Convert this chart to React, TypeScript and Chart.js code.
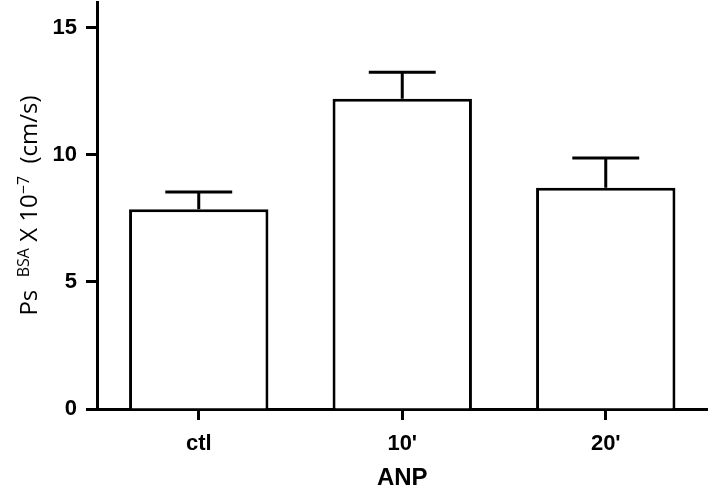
import React, { useEffect, useRef } from "react";
import { Chart, registerables } from "chart.js";

Chart.register(...registerables);

const categories = ["ctl", "10'", "20'"];
const means = [7.85, 12.2, 8.7];
const sems = [0.68, 1.04, 1.17];
const yTicks = [0, 5, 10, 15];
const yMin = 0;
const yMax = 16;
const xTitle = "ANP";
// y-axis title pieces: [text, isSuperscript]
const yTitleParts: [string, boolean][] = [
  ["Ps", false],
  ["  ", false],
  ["BSA", true],
  [" X 10", false],
  ["\u22127", true],
  ["  (cm/s)", false],
];

const errorBarPlugin = {
  id: "errorBars",
  afterDatasetsDraw(chart: any) {
    const ctx = chart.ctx;
    const meta = chart.getDatasetMeta(0);
    const y = chart.scales.y;
    ctx.save();
    ctx.strokeStyle = "#000";
    ctx.lineWidth = 3;
    ctx.lineCap = "butt";
    meta.data.forEach((bar: any, i: number) => {
      const top = y.getPixelForValue(means[i]);
      const hi = y.getPixelForValue(means[i] + sems[i]);
      const half = bar.width * 0.24;
      ctx.beginPath();
      ctx.moveTo(bar.x, top);
      ctx.lineTo(bar.x, hi);
      ctx.moveTo(bar.x - half, hi);
      ctx.lineTo(bar.x + half, hi);
      ctx.stroke();
    });
    ctx.restore();
  },
};

const yTitlePlugin = {
  id: "yTitle",
  afterDraw(chart: any) {
    const ctx = chart.ctx;
    const area = chart.chartArea;
    const mainFont = '24px "Open Sans"';
    const supFont = '16px "Open Sans"';
    ctx.save();
    let total = 0;
    const widths = yTitleParts.map(([t, sup]) => {
      ctx.font = sup ? supFont : mainFont;
      const w = ctx.measureText(t).width;
      total += w;
      return w;
    });
    const cy = (area.top + area.bottom) / 2;
    ctx.translate(37, cy);
    ctx.rotate(-Math.PI / 2);
    ctx.fillStyle = "#000";
    ctx.textBaseline = "alphabetic";
    ctx.textAlign = "left";
    let x = -total / 2;
    yTitleParts.forEach(([t, sup], i) => {
      ctx.font = sup ? supFont : mainFont;
      ctx.fillText(t, x, sup ? -8 : 0);
      x += widths[i];
    });
    ctx.restore();
  },
};

export default function App() {
  const ref = useRef<HTMLCanvasElement | null>(null);
  useEffect(() => {
    if (!ref.current) return;
    const chart = new Chart(ref.current, {
      type: "bar",
      data: {
        labels: categories,
        datasets: [
          {
            data: means,
            backgroundColor: "#fff",
            borderColor: "#000",
            borderWidth: 3,
            barPercentage: 0.685,
            categoryPercentage: 1,
          },
        ],
      },
      options: {
        responsive: false,
        animation: false,
        devicePixelRatio: 1,
        layout: { padding: { top: 2, right: 1.5, left: 0, bottom: 0 } },
        plugins: {
          legend: { display: false },
          tooltip: { enabled: false },
          title: { display: false },
        },
        scales: {
          x: {
            offset: true,
            border: { display: true, color: "#000", width: 3 },
            grid: {
              display: true,
              offset: false,
              drawOnChartArea: false,
              drawTicks: true,
              tickLength: 11,
              tickWidth: 3,
              tickColor: "#000",
              color: "#000",
            },
            ticks: {
              color: "#000",
              padding: 11,
              font: { family: '"Liberation Sans", Arial', size: 22, weight: "bold" },
              maxRotation: 0,
            },
            title: {
              display: true,
              text: xTitle,
              color: "#000",
              font: { family: '"Liberation Sans", Arial', size: 24, weight: "bold", lineHeight: 1 },
              padding: { top: 0, bottom: 6 },
            },
            afterFit(scale: any) {
              scale.height = 87;
              scale.paddingLeft = 0;
              scale.paddingRight = 0;
            },
          },
          y: {
            min: yMin,
            max: yMax,
            border: { display: true, color: "#000", width: 3 },
            grid: {
              display: true,
              drawOnChartArea: false,
              drawTicks: true,
              tickLength: 11,
              tickWidth: 3,
              tickColor: "#000",
              color: "#000",
            },
            ticks: {
              color: "#000",
              padding: 9,
              font: { family: '"Liberation Sans", Arial', size: 22, weight: "bold" },
            },
            afterBuildTicks(scale: any) {
              scale.ticks = yTicks.map((v) => ({ value: v }));
            },
            afterFit(scale: any) {
              scale.width = 97;
              scale.paddingTop = 0;
              scale.paddingBottom = 0;
            },
          },
        },
      },
      plugins: [errorBarPlugin, yTitlePlugin],
    });
    return () => chart.destroy();
  }, []);
  return (
    <div style={{ position: "absolute", left: 0, top: 0, width: 709, height: 496, background: "#fff" }}>
      <canvas ref={ref} width={709} height={496} style={{ display: "block" }} />
    </div>
  );
}
